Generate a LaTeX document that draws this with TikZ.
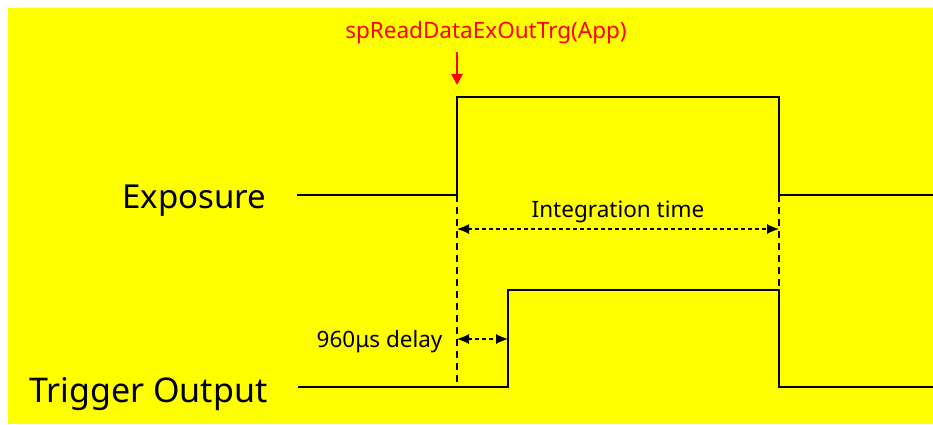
\documentclass[tikz,border=0pt]{standalone}
\usepackage{fontspec}
\setmainfont{Noto Sans}
\usetikzlibrary{arrows.meta}

\definecolor{bgyellow}{RGB}{255,255,0}
\definecolor{appred}{RGB}{255,0,0}
\tikzset{
  signal/.style={line width=2.8pt,line join=miter},
  guide/.style={line width=1.4pt,dash pattern=on 7pt off 5pt},
  dimline/.style={line width=1.1pt,dash pattern=on 4pt off 3pt,{Latex[length=12pt,width=10pt]}-{Latex[length=12pt,width=10pt]}},
  siglabel/.style={anchor=base east,font=\fontsize{33}{36}\selectfont},
  dimlabel/.style={font=\fontsize{22.5}{26}\selectfont}
}

\begin{document}
\begin{tikzpicture}[x=1pt,y=1pt,line cap=butt]
\useasboundingbox (0,0) rectangle (933,424);
\fill[bgyellow] (8,0) rectangle (933,416);
% edges of the two waveforms
\coordinate (exprise) at (457,229);
\coordinate (exptop) at (457,327);
\coordinate (expfall) at (779,229);
\coordinate (trgrise) at (508,37);
\coordinate (trgtop) at (779,134);
\coordinate (trglow) at (457,37);
% waveforms
\draw[signal] (297,229) -- (exprise) -- (exptop) -- (779,327) -- (expfall) -- (933,229);
\draw[signal] (298,37) -- (trgrise) -- (508,134) -- (trgtop) -- (779,37) -- (933,37);
\node[siglabel] (explbl) at (270,216) {Exposure};
\node[siglabel,font=\fontsize{34}{37}\selectfont] (trglbl) at (271,22) {Trigger Output};
% guides
\draw[guide] (exprise) -- (trglow);
\draw[guide] (expfall) -- (trgtop);
% integration time
\coordinate (intL) at (457,195);
\coordinate (intR) at (779,195);
\draw[dimline] (intL) -- (intR);
\node[dimlabel,anchor=base] (intlbl) at (618,207) {Integration time};
% delay
\coordinate (dlyL) at (457,85);
\coordinate (dlyR) at (508,85);
\draw[dimline] (dlyL) -- (dlyR);
\node[dimlabel,anchor=base east] (dlylbl) at (446,77) {960μs delay};
% software trigger
\node[appred,anchor=base,font=\fontsize{22.5}{26}\selectfont] (apptxt) at (486,385) {spReadDataExOutTrg(App)};
\coordinate (apptip) at (457,339);
\draw[appred,line width=2.6pt,-{Triangle[length=11pt,width=11pt]}] (457,372) -- (apptip);
\end{tikzpicture}
\end{document}
